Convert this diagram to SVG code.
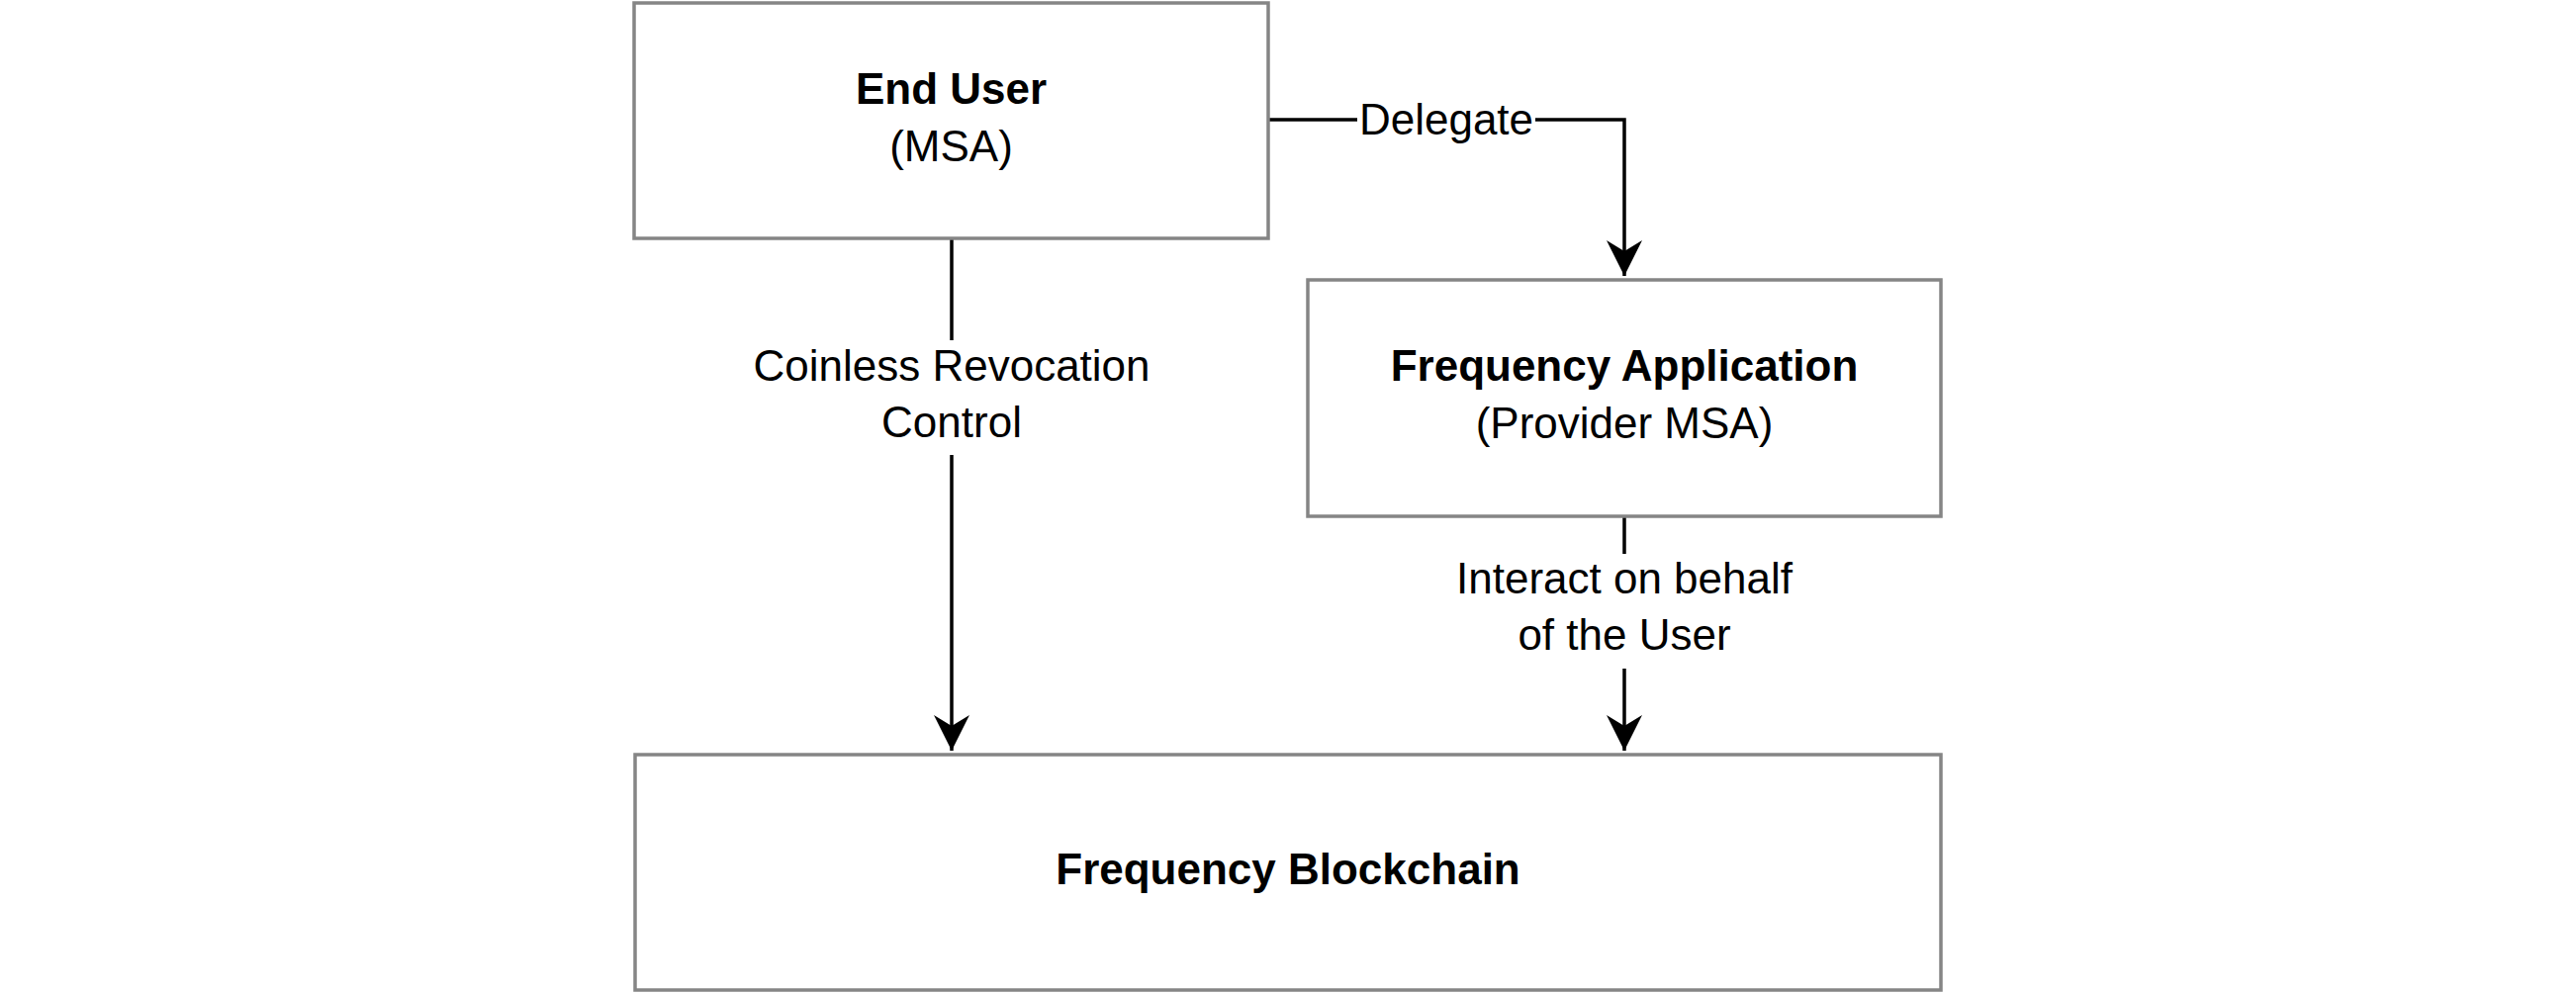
<svg xmlns="http://www.w3.org/2000/svg" width="2604" height="1004" viewBox="0 0 2604 1004">
<style>
.box{fill:#ffffff;stroke:#858585;stroke-width:3.5}
.t{font-family:"Liberation Sans",Arial,sans-serif;font-size:44px;fill:#000;text-anchor:middle}
.b{font-weight:bold}
.edge{fill:none;stroke:#000;stroke-width:3.5}
.lbl{fill:#ffffff;stroke:none}
</style>
<defs>
<marker id="arrow" markerUnits="userSpaceOnUse" markerWidth="40" markerHeight="40" viewBox="-38 -20 40 40" refX="0" refY="0" orient="auto">
<path d="M0,0 L-36,-18 L-25,0 L-36,18 Z" fill="#000"/>
</marker>
</defs>
<rect width="2604" height="1004" fill="#ffffff"/>
<g id="connectors">
<path class="edge" d="M1282,121 H1642 V279" marker-end="url(#arrow)"/>
<path class="edge" d="M962,241 V759" marker-end="url(#arrow)"/>
<path class="edge" d="M1642,522 V759" marker-end="url(#arrow)"/>
<rect class="lbl" x="1372" y="96" width="180" height="50"/>
<text class="t" x="1462" y="136">Delegate</text>
<rect class="lbl" x="760" y="344" width="404" height="116"/>
<text class="t" x="962" y="385">Coinless Revocation</text>
<text class="t" x="962" y="442">Control</text>
<rect class="lbl" x="1460" y="560" width="364" height="116"/>
<text class="t" x="1642" y="600">Interact on behalf</text>
<text class="t" x="1642" y="657">of the User</text>
</g>
<g id="end-user">
<rect class="box" x="641" y="3" width="641" height="238"/>
<text class="t b" x="961.5" y="105">End User</text>
<text class="t" x="961.5" y="163">(MSA)</text>
</g>
<g id="frequency-application">
<rect class="box" x="1322" y="283" width="640" height="239"/>
<text class="t b" x="1642" y="385">Frequency Application</text>
<text class="t" x="1642" y="443">(Provider MSA)</text>
</g>
<g id="frequency-blockchain">
<rect class="box" x="642" y="763" width="1320" height="238"/>
<text class="t b" x="1302" y="894">Frequency Blockchain</text>
</g>
</svg>
